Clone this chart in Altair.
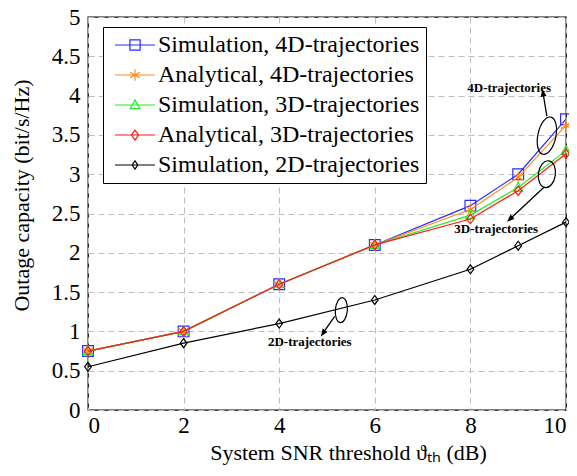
import math
import altair as alt
import pandas as pd

# ---------------- data ----------------
snr_db = [0, 2, 4, 6, 8, 9, 10]
sim_4d = [0.75, 1.0, 1.6, 2.1, 2.6, 3.0, 3.7]
ana_4d = [0.75, 1.0, 1.6, 2.1, 2.55, 2.96, 3.62]
sim_3d = [0.75, 1.0, 1.6, 2.1, 2.48, 2.83, 3.3]
ana_3d = [0.75, 1.0, 1.6, 2.1, 2.43, 2.79, 3.26]
sim_2d = [0.55, 0.85, 1.1, 1.4, 1.79, 2.09, 2.39]

series_names = [
    "Simulation, 4D-trajectories",
    "Analytical, 4D-trajectories",
    "Simulation, 3D-trajectories",
    "Analytical, 3D-trajectories",
    "Simulation, 2D-trajectories",
]
series_values = [sim_4d, ana_4d, sim_3d, ana_3d, sim_2d]

x_ticks = [0, 2, 4, 6, 8, 10]
y_ticks = [0, 0.5, 1, 1.5, 2, 2.5, 3, 3.5, 4, 4.5, 5]

# annotations (data coordinates)
ann_text = ["4D-trajectories", "3D-trajectories", "2D-trajectories"]
ann_text_x = [8.81, 8.54, 4.64]
ann_text_y = [4.10, 2.30, 0.86]
ell_x = [9.6, 9.6, 5.3]
ell_y = [3.49, 3.0, 1.27]
arr_x1 = [9.6, 9.55, 5.16]
arr_y1 = [3.74, 2.84, 1.19]
arr_x2 = [9.52, 8.83, 4.92]
arr_y2 = [4.03, 2.43, 0.98]

# ---------------- style ----------------
W, H = 478, 393
FONT = "Liberation Serif"
colors = ["#2a2aff", "#ff8c1a", "#22ee22", "#ff1a1a", "#000000"]
marker_paths = [
    "M-1,-1H1V1H-1Z",
    "M0,-1.1V1.1M-0.95,-0.55L0.95,0.55M-0.95,0.55L0.95,-0.55",
    "M0,-1L0.95,0.7H-0.95Z",
    "M0,-1L0.75,0L0,1L-0.75,0Z",
    "M0,-1L0.75,0L0,1L-0.75,0Z",
]
marker_sizes = [115, 120, 100, 90, 80]
L = 3.9
legend_paths = [
    f"M-{L},0H{L}M-1,-1H1V1H-1Z",
    f"M-{L},0H{L}M0,-1.1V1.1M-0.95,-0.55L0.95,0.55M-0.95,0.55L0.95,-0.55",
    f"M-{L},0H{L}M0,-1L0.95,0.7H-0.95Z",
    f"M-{L},0H{L}M0,-0.95L0.7,0L0,0.95L-0.7,0Z",
    f"M-{L},0H{L}M0,-0.8L0.55,0L0,0.8L-0.55,0Z",
]
ell_w = [18, 17, 12]
ell_h = [38, 27, 25]
ell_angle = [12, 8, 5]

xscale = alt.Scale(domain=[0, 10], nice=False, zero=False)
yscale = alt.Scale(domain=[0, 5], nice=False, zero=False)

x_axis = alt.Axis(
    values=x_ticks,
    title="System SNR threshold \u03d1\u209c\u2095 (dB)",
    labelExpr="'' + datum.value",
    titleX=260,
)
y_axis = alt.Axis(
    values=y_ticks,
    title="Outage capacity (bit/s/Hz)",
    labelExpr="'' + datum.value",
    labelOverlap=False,
    titleY=178,
)


def X(field="x"):
    return alt.X(f"{field}:Q", scale=xscale, axis=x_axis)


def Y(field="y"):
    return alt.Y(f"{field}:Q", scale=yscale, axis=y_axis)


layers = []
for name, vals, col, mp, ms in zip(series_names, series_values, colors, marker_paths, marker_sizes):
    d = pd.DataFrame({"x": snr_db, "y": vals, "series": name})
    base = alt.Chart(d)
    layers.append(base.mark_line(color=col, strokeWidth=1.2).encode(x=X(), y=Y()))
    layers.append(
        base.mark_point(shape=mp, size=ms, color=col, filled=False, strokeWidth=1.2, opacity=1).encode(
            x=X(), y=Y()
        )
    )

# legend-only layer (no rows drawn)
leg_df = pd.DataFrame({"series": series_names})
legend_props = dict(
    title=None,
    orient="none",
    legendX=15,
    legendY=10,
    labelFont=FONT,
    labelFontSize=24,
    labelColor="black",
    labelLimit=0,
    symbolSize=105,
    symbolStrokeWidth=1.2,
    symbolOffset=14,
    labelOffset=11,
    padding=6,
    rowPadding=6,
    strokeColor="black",
    fillColor="white",
    cornerRadius=0,
)
legend_layer = (
    alt.Chart(leg_df)
    .transform_filter("false")
    .mark_point(filled=False, strokeWidth=1.2, opacity=1)
    .encode(
        color=alt.Color("series:N", scale=alt.Scale(domain=series_names, range=colors), legend=alt.Legend(**legend_props)),
        shape=alt.Shape("series:N", scale=alt.Scale(domain=series_names, range=legend_paths), legend=alt.Legend(**legend_props)),
    )
)
layers.append(legend_layer)

# annotations
ell_paths = [f"M0,-1A{w / h:.3f},1,0,1,1,0,1A{w / h:.3f},1,0,1,1,0,-1Z" for w, h in zip(ell_w, ell_h)]
for ex, ey, p, h, a in zip(ell_x, ell_y, ell_paths, ell_h, ell_angle):
    d = pd.DataFrame({"x": [ex], "y": [ey]})
    layers.append(
        alt.Chart(d)
        .mark_point(shape=p, size=h * h, angle=a, color="black", filled=False, strokeWidth=1.2, opacity=1)
        .encode(x=X(), y=Y())
    )

arr_df = pd.DataFrame({"x": arr_x1, "y": arr_y1, "x2": arr_x2, "y2": arr_y2})
layers.append(
    alt.Chart(arr_df)
    .mark_rule(color="black", strokeWidth=1.3)
    .encode(x=X(), y=Y(), x2="x2:Q", y2="y2:Q")
)
for x1, y1, x2, y2 in zip(arr_x1, arr_y1, arr_x2, arr_y2):
    dxp = (x2 - x1) * W / 10
    dyp = -(y2 - y1) * H / 5
    ang = math.degrees(math.atan2(dxp, -dyp)) % 360
    d = pd.DataFrame({"x": [x2], "y": [y2]})
    layers.append(
        alt.Chart(d)
        .mark_point(shape="M0,-1L0.7,0.8L-0.7,0.8Z", size=70, angle=ang, color="black", filled=True, opacity=1)
        .encode(x=X(), y=Y())
    )

txt_df = pd.DataFrame({"x": ann_text_x, "y": ann_text_y, "t": ann_text})
layers.append(
    alt.Chart(txt_df)
    .mark_text(font=FONT, fontWeight="bold", fontSize=13, color="black")
    .encode(x=X(), y=Y(), text="t:N")
)

chart = (
    alt.layer(*layers)
    .properties(
        width=W,
        height=H,
        autosize=alt.AutoSizeParams(type="none"),
        padding={"left": 80, "top": 9, "right": 3, "bottom": 58},
    )
    .configure_view(stroke="black", strokeWidth=1.3)
    .configure_axis(
        domain=False,
        ticks=False,
        grid=True,
        gridColor="#bdbdbd",
        gridDash=[6, 4],
        gridWidth=1,
        labelFont=FONT,
        labelFontSize=23,
        labelColor="black",
        titleFont=FONT,
        titleFontSize=22,
        titleFontWeight="normal",
        titleColor="black",
    )
    .configure_axisX(labelPadding=4, titlePadding=5)
    .configure_axisY(labelPadding=8, titleX=-67, titleBaseline="middle")
)

chart.save("out.html", embed_options={"renderer": "svg", "actions": False})
